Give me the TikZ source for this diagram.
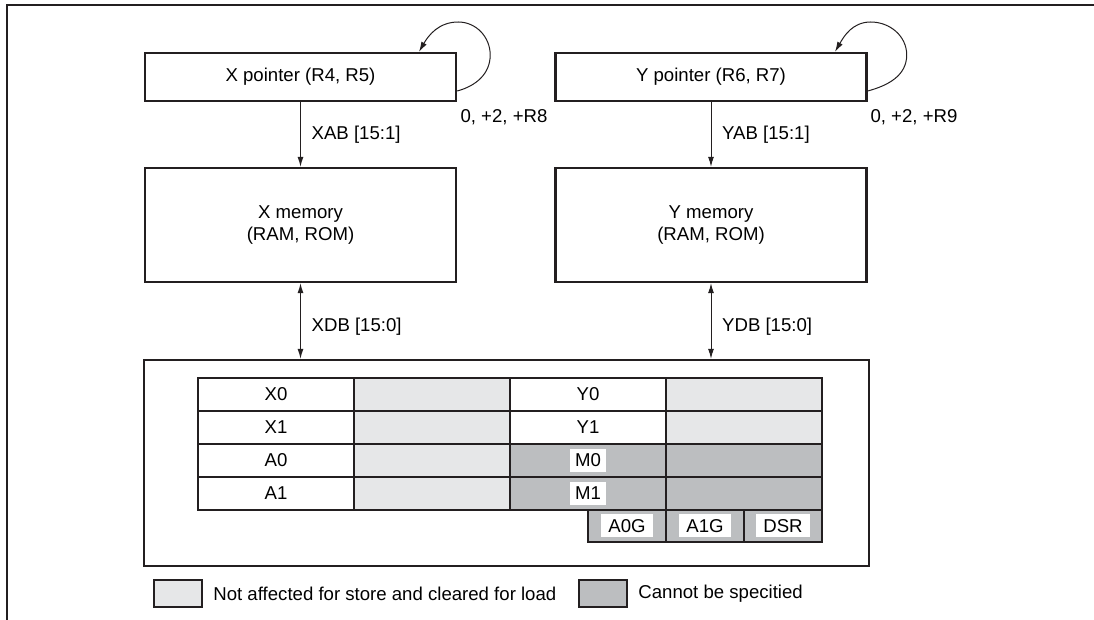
\documentclass[tikz,border=0pt]{standalone}
\usepackage{fontspec}
\setmainfont{Liberation Sans}
\usetikzlibrary{arrows.meta}
\definecolor{lgray}{HTML}{E6E7E8}
\definecolor{dgray}{HTML}{BCBEC0}
\definecolor{ink}{HTML}{231F20}
\begin{document}
\begin{tikzpicture}[x=0.5pt,y=-0.5pt,
  font=\fontsize{9.3}{11}\selectfont,
  box/.style={draw=ink,line width=1.2pt,inner sep=0pt,align=center},
  cell/.style={draw=ink,line width=1.2pt,inner sep=0pt,minimum width=78pt,minimum height=16.5pt},
  ecell/.style={cell,minimum width=39pt,minimum height=16pt,fill=dgray},
  lbl/.style={fill=white,inner xsep=3.5pt,inner ysep=0pt,minimum height=11.5pt},
  conn/.style={line width=0.5pt,draw=ink,-{Latex[length=5pt,width=3pt]}},
  dconn/.style={line width=0.5pt,draw=ink,{Latex[length=5pt,width=3pt]}-{Latex[length=5pt,width=3pt]}},
  legbox/.style={draw=ink,line width=1.3pt,minimum width=24pt,minimum height=13.5pt,inner sep=0pt},
  legtext/.style={anchor=west,inner sep=0pt}]
\useasboundingbox (0,0) rectangle (1094,620);
% frame
\draw[ink,line width=1.3pt] (7,620) -- (7,5) -- (1094,5);
% pointers
\node[box,minimum width=155.5pt,minimum height=24pt] (xp) at (300.5,77) {X pointer (R4, R5)};
\node[box,minimum width=155.5pt,minimum height=24pt] (yp) at (711,77) {Y pointer (R6, R7)};
% memories
\node[box,minimum width=155.5pt,minimum height=57pt] (xm) at (300.5,225) {X memory\\(RAM, ROM)};
\node[box,minimum width=155.5pt,minimum height=57pt] (ym) at (711,225) {Y memory\\(RAM, ROM)};
% big box
\node[box,minimum width=362.5pt,minimum height=103pt] (big) at (506.5,463) {};
% loops
\draw[conn] ([yshift=-7pt]xp.east) to[out=15,in=-90] ++(16.5pt,18pt) to[out=90,in=0] ++(-16pt,16.5pt) to[out=180,in=60] ([xshift=59.25pt]xp.north);
\draw[conn] ([yshift=-7pt]yp.east) to[out=15,in=-90] ++(19.5pt,18pt) to[out=90,in=0] ++(-18pt,16.5pt) to[out=180,in=60] ([xshift=62pt]yp.north);
\node (lx) at (504,117) {0, +2, +R8};
\node (ly) at (914,117) {0, +2, +R9};
% buses
\draw[conn] (xp.south) -- node[right=2pt] {XAB [15:1]} (xm.north);
\draw[conn] (yp.south) -- node[right=2pt] {YAB [15:1]} (ym.north);
\draw[dconn] (xm.south) -- node[right=2pt,pos=0.57] {XDB [15:0]} (xm.south |- big.north);
\draw[dconn] (ym.south) -- node[right=2pt,pos=0.57] {YDB [15:0]} (ym.south |- big.north);
% table rows
\node[cell] (c11) at (276,394.5) {X0};
\node[cell,fill=lgray] (c12) at (432,394.5) {};
\node[cell] (c13) at (588,394.5) {Y0};
\node[cell,fill=lgray] (c14) at (744,394.5) {};
\node[cell] (c21) at (276,427.5) {X1};
\node[cell,fill=lgray] (c22) at (432,427.5) {};
\node[cell] (c23) at (588,427.5) {Y1};
\node[cell,fill=lgray] (c24) at (744,427.5) {};
\node[cell] (c31) at (276,460.5) {A0};
\node[cell,fill=lgray] (c32) at (432,460.5) {};
\node[cell,fill=dgray] (c33) at (588,460.5) {};
\node[cell,fill=dgray] (c34) at (744,460.5) {};
\node[cell] (c41) at (276,493.5) {A1};
\node[cell,fill=lgray] (c42) at (432,493.5) {};
\node[cell,fill=dgray] (c43) at (588,493.5) {};
\node[cell,fill=dgray] (c44) at (744,493.5) {};
\node[ecell] (e1) at (627,526) {};
\node[ecell] (e2) at (705,526) {};
\node[ecell] (e3) at (783,526) {};
\node[lbl,inner xsep=2.5pt] (m0) at (c33.center) {M0};
\node[lbl,inner xsep=2.5pt] (m1) at (c43.center) {M1};
\node[lbl] (a0g) at (e1.center) {A0G};
\node[lbl] (a1g) at (e2.center) {A1G};
\node[lbl] (dsr) at (e3.center) {DSR};
% legend
\node[legbox,fill=lgray] (lg1) at (178,593.5) {};
\node[legtext] (lt1) at (213,594) {Not affected for store and cleared for load};
\node[legbox,fill=dgray] (lg2) at (603,593.5) {};
\node[legtext] (lt2) at (638,594) {Cannot be specitied};
\end{tikzpicture}
\end{document}
